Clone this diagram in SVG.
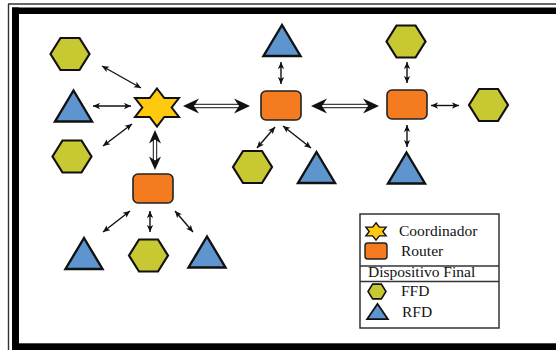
<svg xmlns="http://www.w3.org/2000/svg" xmlns:xlink="http://www.w3.org/1999/xlink" width="556" height="350" viewBox="0 0 556 350">
  <style>
    .hex { fill: #C8C832; stroke: #111; stroke-width: 2.2; stroke-linejoin: miter; }
    .tri { fill: #5E95CF; stroke: #111; stroke-width: 2.4; stroke-linejoin: miter; }
    .rtr { fill: #F47B20; stroke: #222; stroke-width: 1.6; }
    .star { fill: #FFC90E; stroke: #111; stroke-width: 2; stroke-linejoin: miter; }
    .link { stroke: #111; stroke-width: 1.4; fill: none; marker-start: url(#ah); marker-end: url(#ah); }
    .shaft { fill: #fff; stroke: #111; stroke-width: 1; }
    .head { fill: #111; }
    .lbl { font-family: "Liberation Serif", "Times New Roman", serif; font-size: 15.5px; fill: #111; }
  </style>
  <defs>
    <marker id="ah" viewBox="0 0 10 10" refX="10" refY="5" markerWidth="8" markerHeight="7" markerUnits="userSpaceOnUse" orient="auto-start-reverse">
      <path d="M0,0.5 L10,5 L0,9.5 L2.5,5 z" fill="#111"/>
    </marker>
    <polygon id="hexShape" points="-19.5,0 -9.5,-16 9.5,-16 19.5,0 9.5,16 -9.5,16"/>
    <polygon id="triShape" points="0,-15.5 18.5,15.5 -18.5,15.5"/>
    <rect id="rtrShape" x="-20" y="-14.5" width="40" height="29" rx="5"/>
    <polygon id="starShape" points="0,-19 7.3,-9.5 22,-9.5 14.7,0 22,9.5 7.3,9.5 0,19 -7.3,9.5 -22,9.5 -14.7,0 -22,-9.5 -7.3,-9.5"/>
  </defs>

  <!-- page frame -->
  <rect x="0" y="0" width="556" height="350" fill="#fff"/>
  <g id="frame" fill="#000">
    <line x1="8.5" y1="4" x2="8.5" y2="350" stroke="#333" stroke-width="1.4"/>
    <line x1="8" y1="4" x2="556" y2="4" stroke="#333" stroke-width="1.4"/>
    <rect x="12" y="7.5" width="544" height="6.5"/>
    <rect x="12" y="7.5" width="7" height="342.5"/>
    <rect x="12" y="343.3" width="544" height="6.7"/>
  </g>

  <!-- connectors -->
  <g id="connectors">
    <line class="link" x1="102" y1="66" x2="141" y2="88"/>
    <line class="link" x1="93" y1="106" x2="131" y2="106"/>
    <line class="link" x1="103" y1="146" x2="132" y2="124"/>
    <line class="link" x1="281" y1="62" x2="281" y2="84"/>
    <line class="link" x1="275" y1="127" x2="257" y2="148"/>
    <line class="link" x1="283" y1="126" x2="311" y2="148"/>
    <line class="link" x1="407" y1="62" x2="407" y2="83"/>
    <line class="link" x1="431" y1="105.5" x2="459" y2="105.5"/>
    <line class="link" x1="407" y1="125" x2="407" y2="147"/>
    <line class="link" x1="130" y1="211" x2="103" y2="232"/>
    <line class="link" x1="150" y1="211" x2="150" y2="232"/>
    <line class="link" x1="175" y1="211" x2="193" y2="232"/>

    <!-- hollow double-line links between coordinator and routers -->
    <g id="coord-router1">
      <rect class="shaft" x="193" y="104.3" width="47" height="3.4"/>
      <polygon class="head" points="183,106 199,98.5 194,106 199,113.5"/>
      <polygon class="head" points="250,106 234,98.5 239,106 234,113.5"/>
    </g>
    <g id="router1-router2">
      <rect class="shaft" x="321" y="104.3" width="48" height="3.4"/>
      <polygon class="head" points="311,106 327,98.5 322,106 327,113.5"/>
      <polygon class="head" points="379,106 363,98.5 368,106 363,113.5"/>
    </g>
    <g id="coord-router3">
      <rect class="shaft" x="153.3" y="138" width="3.4" height="24"/>
      <polygon class="head" points="155,130 161,143.5 155,139.5 149,143.5"/>
      <polygon class="head" points="155,170 161,156.5 155,160.5 149,156.5"/>
    </g>
  </g>

  <!-- coordinator -->
  <g id="coordinator"><use xlink:href="#starShape" class="star" x="157" y="107.5"/></g>

  <!-- routers -->
  <g id="router1"><use xlink:href="#rtrShape" class="rtr" x="281" y="105.5"/></g>
  <g id="router2"><use xlink:href="#rtrShape" class="rtr" x="407" y="104.5"/></g>
  <g id="router3"><use xlink:href="#rtrShape" class="rtr" x="153" y="188.5"/></g>

  <!-- end devices around coordinator -->
  <g id="ffd-c1"><use xlink:href="#hexShape" class="hex" x="70" y="54"/></g>
  <g id="rfd-c1"><use xlink:href="#triShape" class="tri" x="73.5" y="106"/></g>
  <g id="ffd-c2"><use xlink:href="#hexShape" class="hex" x="72" y="156.5"/></g>

  <!-- end devices around router 1 -->
  <g id="rfd-r1a"><use xlink:href="#triShape" class="tri" x="282" y="40.5"/></g>
  <g id="ffd-r1"><use xlink:href="#hexShape" class="hex" x="252.5" y="167"/></g>
  <g id="rfd-r1b"><use xlink:href="#triShape" class="tri" x="316.5" y="167.5"/></g>

  <!-- end devices around router 2 -->
  <g id="ffd-r2a"><use xlink:href="#hexShape" class="hex" x="406" y="41.5"/></g>
  <g id="ffd-r2b"><use xlink:href="#hexShape" class="hex" x="488.5" y="105"/></g>
  <g id="rfd-r2"><use xlink:href="#triShape" class="tri" x="406.5" y="168"/></g>

  <!-- end devices around router 3 -->
  <g id="rfd-r3a"><use xlink:href="#triShape" class="tri" x="84" y="253.5"/></g>
  <g id="ffd-r3"><use xlink:href="#hexShape" class="hex" x="148.5" y="255.5"/></g>
  <g id="rfd-r3b"><use xlink:href="#triShape" class="tri" x="207" y="252"/></g>

  <!-- legend -->
  <g id="legend">
    <rect x="360" y="214" width="139" height="114" fill="#fff" stroke="#333" stroke-width="1.5"/>
    <line x1="360" y1="266" x2="499" y2="266" stroke="#333" stroke-width="1.5"/>
    <line x1="360" y1="281.5" x2="499" y2="281.5" stroke="#333" stroke-width="1.5"/>
    <use xlink:href="#starShape" class="star" transform="translate(376,231.5) scale(0.46)" style="stroke-width:3"/>
    <use xlink:href="#rtrShape" class="rtr" transform="translate(376,251) scale(0.55)" style="stroke-width:2.6"/>
    <use xlink:href="#hexShape" class="hex" transform="translate(377,291.5) scale(0.46)" style="stroke-width:3.4"/>
    <use xlink:href="#triShape" class="tri" transform="translate(377.5,311.5) scale(0.56,0.49)" style="stroke-width:3.4"/>
    <text class="lbl" x="399" y="236">Coordinador</text>
    <text class="lbl" x="401" y="256">Router</text>
    <text class="lbl" x="368" y="277">Dispositivo Final</text>
    <text class="lbl" x="401" y="296">FFD</text>
    <text class="lbl" x="402" y="317">RFD</text>
  </g>
</svg>
